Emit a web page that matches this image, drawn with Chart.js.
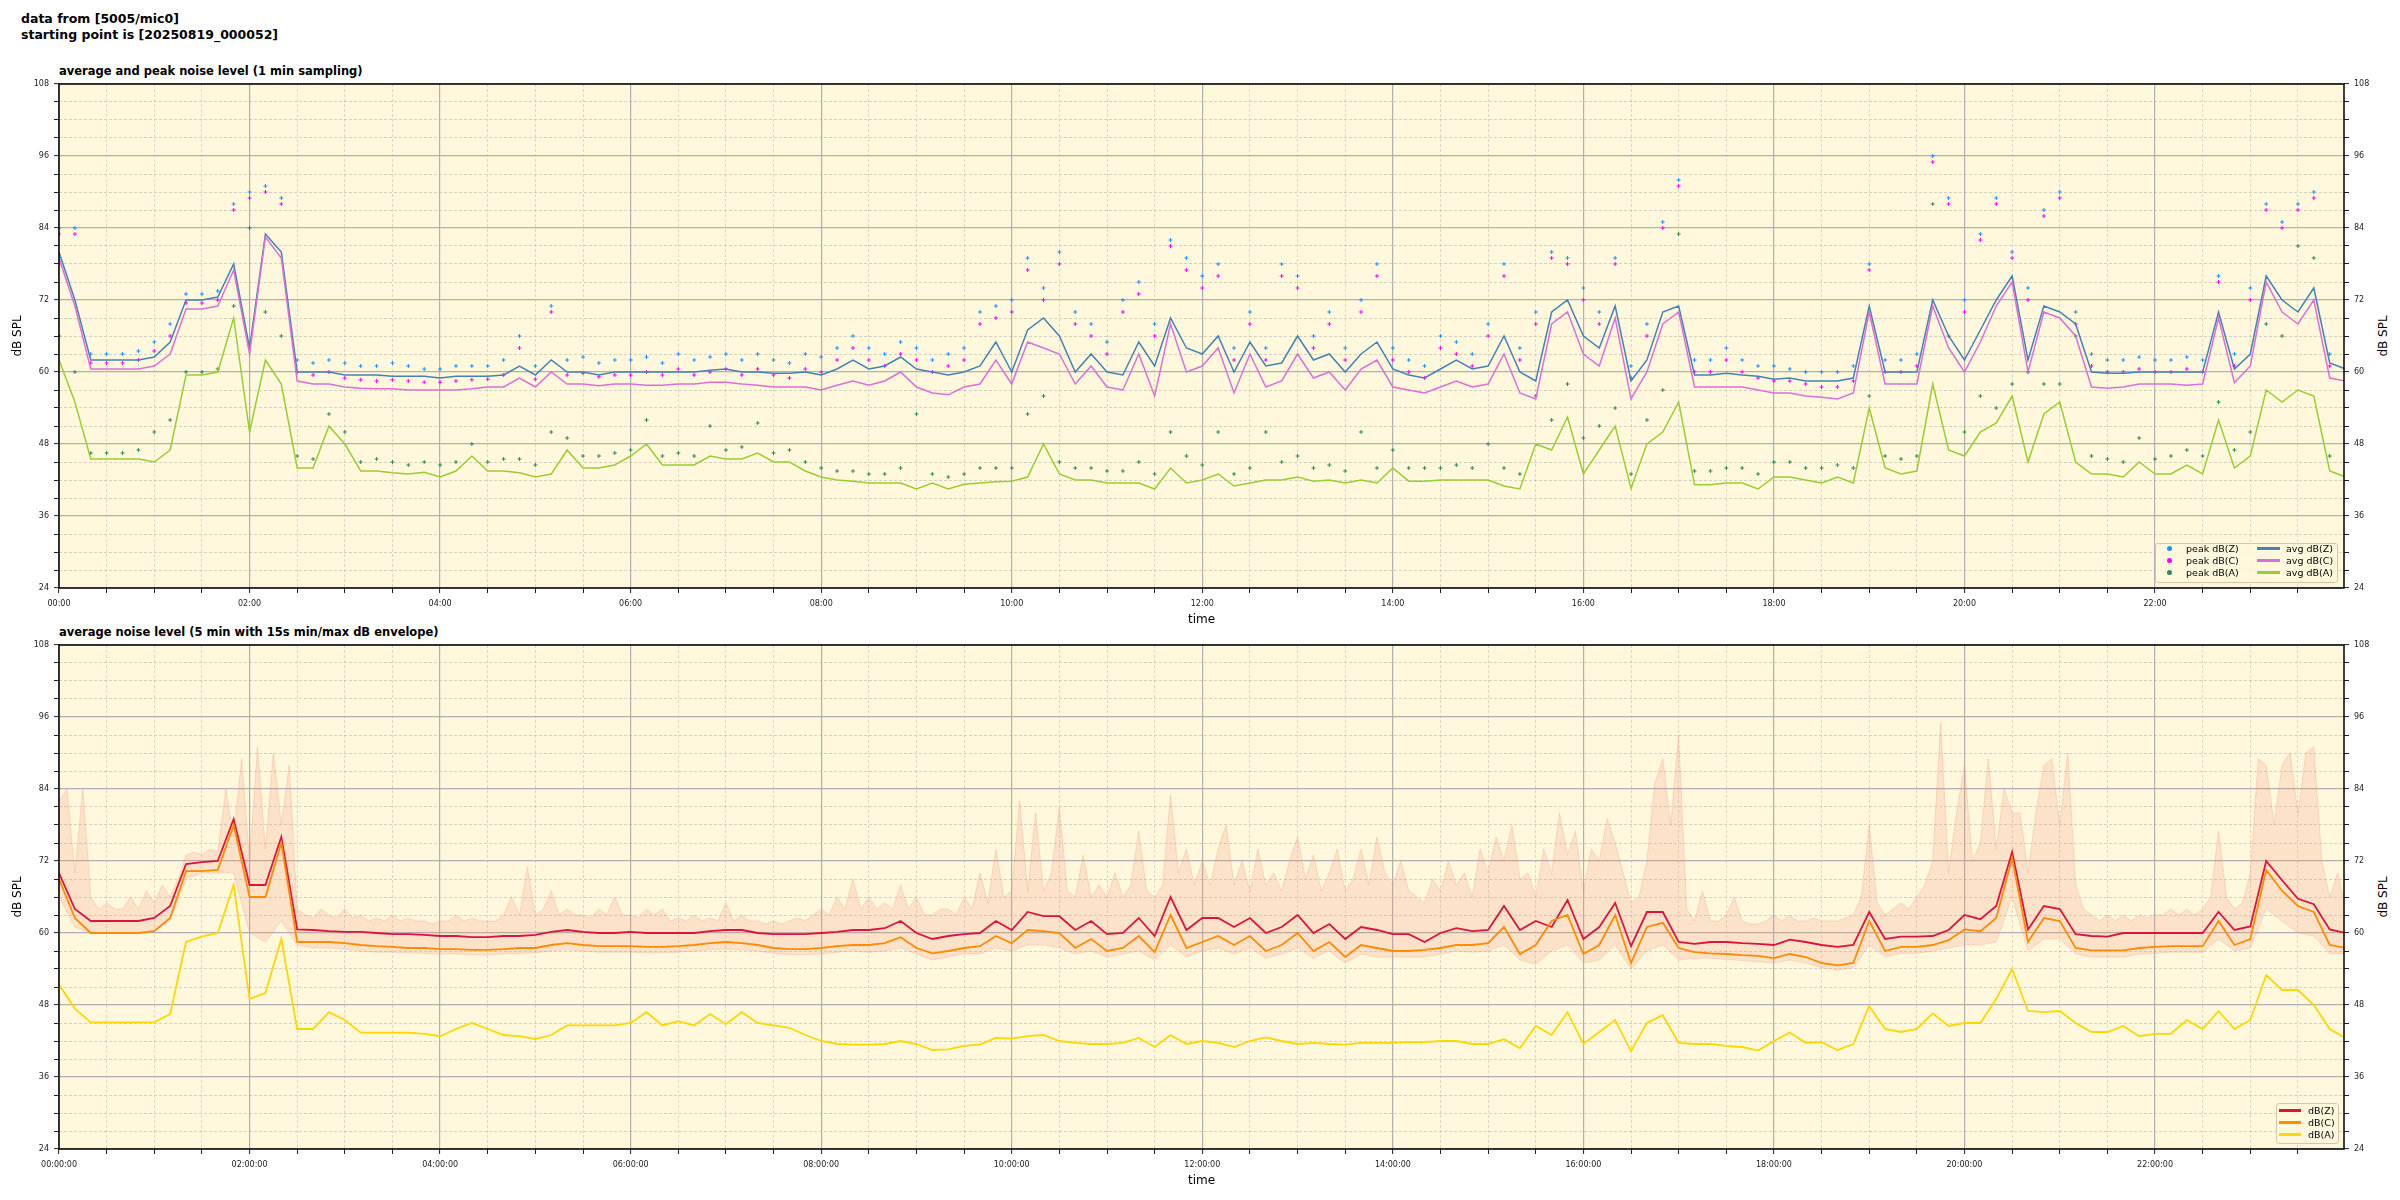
<!DOCTYPE html>
<html>
<head>
<meta charset="utf-8">
<script src="https://cdn.jsdelivr.net/npm/chart.js@4.4.1/dist/chart.umd.min.js"></script>
<style>
  body { margin: 0; background: #fff; font-family: "DejaVu Sans", sans-serif; color: #000; }
  #page { position: relative; width: 2400px; height: 1200px; overflow: hidden; }
  .abs { position: absolute; white-space: nowrap; }
  #suptitle { left: 21px; top: 11px; font-weight: bold; font-size: 12.5px; line-height: 15.5px; }
  .subtitle { left: 59px; font-weight: bold; font-size: 11.5px; line-height: 14px; }
  .ylab-right { width: 100px; text-align: center; font-size: 12px; line-height: 14px; transform: rotate(-90deg); }
  canvas { position: absolute; left: 0; }
  .legend { position: absolute; border: 1px solid #d9c6a2; border-radius: 3px; background: rgba(255, 248, 220, 0.85); box-sizing: border-box; }
  .item { position: absolute; font-size: 9.5px; line-height: 11px; white-space: nowrap; }
  .dot { position: absolute; width: 5px; height: 5px; border-radius: 50%; }
  .bar { position: absolute; height: 3px; }
</style>
</head>
<body>
<div id="page">
  <div id="suptitle" class="abs">data from [5005/mic0]<br>starting point is [20250819_000052]</div>
  <div class="abs subtitle" style="top:64px">average and peak noise level (1 min sampling)</div>
  <div class="abs subtitle" style="top:625px">average noise level (5 min with 15s min/max dB envelope)</div>
  <div class="abs ylab-right" style="left:2333px; top:329px">dB SPL</div>
  <div class="abs ylab-right" style="left:2333px; top:890px">dB SPL</div>

  <canvas id="topChart" width="2400" height="560" style="top:74px"></canvas>
  <canvas id="bottomChart" width="2400" height="560" style="top:635px"></canvas>

  <!-- legend of the upper plot -->
  <div class="legend" style="left:2155px; top:543px; width:183px; height:40px"></div>
  <div class="dot" style="left:2167px; top:546px; background:dodgerblue"></div>
  <div class="item" style="left:2186px; top:543px">peak dB(Z)</div>
  <div class="dot" style="left:2167px; top:558px; background:magenta"></div>
  <div class="item" style="left:2186px; top:555px">peak dB(C)</div>
  <div class="dot" style="left:2167px; top:570px; background:seagreen"></div>
  <div class="item" style="left:2186px; top:567px">peak dB(A)</div>
  <div class="bar" style="left:2257px; top:547px; width:23px; background:#4682b4"></div>
  <div class="item" style="left:2286px; top:543px">avg dB(Z)</div>
  <div class="bar" style="left:2257px; top:559px; width:23px; background:#da70d6"></div>
  <div class="item" style="left:2286px; top:555px">avg dB(C)</div>
  <div class="bar" style="left:2257px; top:571px; width:23px; background:#9acd32"></div>
  <div class="item" style="left:2286px; top:567px">avg dB(A)</div>

  <!-- legend of the lower plot -->
  <div class="legend" style="left:2276px; top:1103px; width:63px; height:41px"></div>
  <div class="bar" style="left:2279px; top:1109px; width:22px; background:#dc143c"></div>
  <div class="item" style="left:2308px; top:1105px">dB(Z)</div>
  <div class="bar" style="left:2279px; top:1121px; width:22px; background:#ff8c00"></div>
  <div class="item" style="left:2308px; top:1117px">dB(C)</div>
  <div class="bar" style="left:2279px; top:1133px; width:22px; background:#ffd700"></div>
  <div class="item" style="left:2308px; top:1129px">dB(A)</div>
</div>

<script>
// one value every 10 minutes from 00:00 (the envelope top: every 5 minutes)
const stepMin = 10;
const envStepMin = 5;

// upper plot: 1 min averages
const avgZ = [
  80, 72, 62, 62, 62, 62, 62.5, 65, 72, 72, 72.5, 78,
  64, 83, 80, 60, 60, 60, 59.5, 59.5, 59.5, 59.3, 59.3, 59.3,
  59, 59.3, 59.3, 59.3, 59.5, 61, 59.5, 62, 60, 60, 59.5, 60,
  60, 60, 60, 60, 60, 60.3, 60.5, 60, 60, 59.8, 59.8, 60,
  59.5, 60.5, 62, 60.5, 61, 62.5, 60.5, 60, 59.5, 60, 61, 65,
  60, 67, 69, 66, 60, 63, 60, 59.5, 65, 61, 69, 64,
  63, 66, 60, 65, 61, 61.5, 66, 62, 63, 60, 63, 65,
  60.5, 59.5, 59, 60.5, 62, 60.5, 61, 66, 60, 58.5, 70, 72,
  66, 64, 71, 58.5, 62, 70, 71, 59.5, 59.5, 59.8, 59.5, 59.3,
  58.8, 59, 58.5, 58.5, 58.5, 59, 71, 60, 60, 60, 72, 66,
  62, 67, 72, 76, 62, 71, 70, 68, 60, 59.8, 59.8, 60,
  60, 60, 60, 60, 70, 60.5, 63, 76, 72, 70, 74, 61.5,
  60.5
];
const avgC = [
  79, 71, 60.5, 60.5, 60.5, 60.5, 61, 63, 70.5, 70.5, 71, 77,
  63, 82.5, 79, 58.5, 58, 58, 57.5, 57.3, 57.2, 57.2, 57, 57,
  57, 57, 57.2, 57.5, 57.5, 59, 57.5, 60, 58, 58, 57.7, 58,
  58, 57.8, 57.8, 58, 58, 58.3, 58.3, 58, 57.8, 57.5, 57.5, 57.5,
  57, 57.8, 58.5, 57.8, 58.5, 60, 57.5, 56.5, 56.2, 57.5, 58, 62,
  58, 65, 64, 63, 58, 61, 57.5, 57, 63, 56, 68, 60,
  61, 64, 56.5, 63, 57.5, 58.5, 63, 59, 60, 57, 60.5, 62,
  57.5, 57, 56.5, 57.5, 58.5, 57.5, 58, 63, 56.5, 55.5, 68, 70,
  63, 61, 69, 55.5, 60, 68, 70, 57.5, 57.5, 57.5, 57.5, 57,
  56.5, 56.5, 56, 55.8, 55.5, 56.5, 70, 58, 58, 58, 71, 64,
  60, 65, 71, 75, 60, 70, 69, 66, 57.5, 57.3, 57.5, 58,
  58, 58, 57.8, 58, 69, 58.2, 61, 75, 70, 68, 72, 59,
  58.5
];
const avgA = [
  62, 55, 45.5, 45.5, 45.5, 45.5, 45, 47, 59.5, 59.5, 60, 69,
  50, 62, 58, 44, 44, 51, 48, 43.5, 43.5, 43.2, 43, 43.3,
  42.5, 43.5, 46, 43.5, 43.5, 43.2, 42.5, 43, 47, 44, 44, 44.5,
  46, 48, 44.5, 44.5, 44.5, 46, 45.5, 45.5, 46.5, 45, 45, 43.5,
  42.5, 42, 41.8, 41.5, 41.5, 41.5, 40.5, 41.5, 40.5, 41.3, 41.5, 41.7,
  41.8, 42.5, 48, 43, 42, 42, 41.5, 41.5, 41.5, 40.5, 44, 41.5,
  42, 43, 41, 41.5, 42, 42, 42.5, 41.8, 42, 41.5, 42, 41.5,
  44, 41.8, 41.8, 42, 42, 42, 42, 41, 40.5, 48, 47, 52.5,
  43, 47, 51, 40.6, 48, 50, 55, 41.2, 41.2, 41.5, 41.5, 40.5,
  42.5, 42.5, 42, 41.5, 42.5, 41.5, 54, 44, 43, 43.5, 58, 47,
  46, 50, 51.5, 56, 45, 53, 55, 45, 43, 43, 42.5, 45,
  43, 43, 44.5, 43, 52, 44, 46, 57, 55, 57, 56, 43.5,
  42.5
];

// upper plot: 1 min peaks
const peakZ = [
  84, 84, 63, 63, 63, 63.5, 65, 68, 73, 73, 73.5, 88,
  90, 91, 89, 62, 61.5, 62, 61.5, 61, 61, 61.5, 61, 60.5,
  60.5, 61, 61, 61, 62, 66, 61, 71, 62, 62.5, 61.5, 62,
  62, 62.5, 61.5, 63, 62, 62.5, 63, 62, 63, 62, 61.5, 63,
  62.5, 64, 66, 64, 63, 65, 64, 62, 63, 64, 70, 71,
  72, 79, 74, 80, 70, 68, 65, 72, 75, 68, 82, 79,
  76, 78, 64, 70, 64, 78, 76, 66, 70, 64, 72, 78,
  64, 62, 61, 66, 65, 63, 68, 78, 64, 70, 80, 79,
  74, 70, 79, 61, 68, 85, 92, 62, 62, 64, 62, 61,
  61, 60.5, 60, 60, 60, 61, 78, 62, 62, 63, 96, 89,
  72, 83, 89, 80, 74, 87, 90, 70, 63, 62, 62, 62.5,
  62, 62, 62.5, 62, 76, 63, 74, 88, 85, 88, 90, 63,
  62
];
const peakC = [
  83, 83, 61.5, 61.5, 61.5, 62, 63.5, 66, 71.5, 71.5, 72, 87,
  89, 90, 88, 60, 59.5, 60, 59, 58.7, 58.5, 58.7, 58.5, 58.3,
  58.3, 58.5, 58.7, 58.8, 59.5, 64, 58.8, 70, 59.5, 59.8, 59.2, 59.5,
  59.5, 60, 59.5, 60.5, 59.5, 60, 60.5, 59.5, 60.5, 59.5, 59, 60.5,
  60, 62, 64, 62, 61, 63, 62, 60, 61, 62, 68, 69,
  70, 77, 72, 78, 68, 66, 63, 70, 73, 66, 81, 77,
  74, 76, 62, 68, 62, 76, 74, 64, 68, 62, 70, 76,
  62, 60, 59, 64, 63, 61, 66, 76, 62, 68, 79, 78,
  72, 68, 78, 59, 66, 84, 91, 60, 60, 62, 60, 59,
  58.5, 58.5, 58, 57.5, 57.5, 58.5, 77, 60, 60, 61, 95, 88,
  70, 82, 88, 79, 72, 86, 89, 68, 61, 60, 60, 60.5,
  60, 60, 60.5, 60, 75, 61, 72, 87, 84, 87, 89, 61,
  60
];
const peakA = [
  66, 60, 46.5, 46.5, 46.5, 47, 50, 52, 60, 60, 60.5, 71,
  84, 70, 66, 46, 45.5, 53, 50, 45, 45.5, 45, 44.5, 45,
  44.5, 45, 48, 45, 45.5, 45.5, 44.5, 50, 49, 46, 46, 46.5,
  47, 52, 46, 46.5, 46, 51, 47, 47.5, 51.5, 46.5, 47, 45,
  44, 43.5, 43.5, 43, 43, 44, 53, 43, 42.5, 43, 44, 44,
  44, 53, 56, 45, 44, 44, 43.5, 43.5, 45, 43, 50, 46,
  44.5, 50, 43, 44, 50, 45, 46, 44, 44.5, 43.5, 50, 44,
  47, 44, 44, 44, 44.5, 44, 48, 44, 43, 56, 52, 58,
  49, 51, 54, 43, 52, 57, 83, 43.5, 43.5, 44, 44, 43,
  45, 45, 44, 44, 44.5, 44, 56, 46, 45.5, 46, 88, 66,
  50, 56, 54, 58, 60, 58, 58, 66, 46, 45.5, 45, 49,
  45.5, 46, 47, 46, 55, 47, 50, 68, 66, 81, 79, 46,
  45
];

// lower plot: 5 min averages
const lineZ = [
  70, 64, 62, 62, 62, 62, 62.5, 64.5, 71.5, 71.8, 72, 79,
  68, 68, 76, 60.6, 60.5, 60.3, 60.2, 60.2, 60, 59.8, 59.8, 59.7,
  59.5, 59.5, 59.3, 59.3, 59.5, 59.5, 59.7, 60.2, 60.5, 60.2, 60, 60,
  60.2, 60, 60, 60, 60, 60.3, 60.5, 60.5, 60, 59.8, 59.8, 59.8,
  60, 60.2, 60.5, 60.5, 60.8, 62, 60, 59, 59.5, 59.8, 60, 62,
  60.5, 63.5, 62.8, 62.8, 60.5, 62, 59.8, 60, 62.5, 59.5, 66, 60.5,
  62.5, 62.5, 61, 62.5, 60, 61, 63, 60, 61.5, 59, 61, 60.5,
  59.8, 59.8, 58.5, 60, 60.8, 60.3, 60.5, 64.5, 60.5, 62, 61, 65.5,
  59, 61, 65, 57.8, 63.5, 63.5, 58.5, 58.2, 58.5, 58.5, 58.3, 58.2,
  58, 58.9, 58.5, 58, 57.7, 58, 63.5, 59, 59.4, 59.4, 59.5, 60.5,
  63, 62.3, 64.5, 73.5, 60.6, 64.5, 64, 59.8, 59.5, 59.4, 60, 60,
  60, 60, 60, 60, 63.5, 60.5, 61.1, 72, 68.8, 65.7, 64.8, 60.6,
  60
];
const lineC = [
  69, 62.5, 60, 60, 60, 60, 60.3, 62.5, 70.3, 70.3, 70.5, 78,
  66, 66, 75, 58.5, 58.5, 58.5, 58.3, 58, 57.8, 57.7, 57.5, 57.5,
  57.3, 57.3, 57.2, 57.2, 57.3, 57.5, 57.5, 58, 58.3, 58, 57.8, 57.8,
  57.8, 57.7, 57.7, 57.8, 58, 58.3, 58.5, 58.3, 58, 57.5, 57.3, 57.3,
  57.5, 57.8, 58, 58, 58.3, 59.3, 57.5, 56.6, 57, 57.5, 57.8, 59.5,
  58.3, 60.5, 60.3, 60, 57.5, 59, 57, 57.5, 59.5, 56.8, 63, 57.5,
  58.5, 59.5, 58, 59.5, 57, 58, 60, 57, 58.5, 56, 58, 57.5,
  57, 57, 57.2, 57.5, 58, 58, 58.3, 61, 56.5, 58, 62, 63,
  56.5, 58, 63, 55, 61, 61.7, 57.5, 56.8, 56.6, 56.5, 56.3, 56.2,
  55.8, 56.5, 56, 55, 54.6, 55, 62, 57, 57.7, 57.7, 58, 58.8,
  60.6, 60.3, 62.5, 72.5, 58.5, 62.5, 62, 57.5, 57.1, 57.1, 57.1, 57.5,
  57.7, 57.8, 57.8, 57.8, 62, 58, 59, 70.5, 67, 64.5, 63.5, 58,
  57.5
];
const lineA = [
  51.4, 47.4, 45.1, 45.1, 45.1, 45.1, 45.1, 46.5, 58.5, 59.4, 60, 68,
  49, 50, 59, 44, 44, 46.8, 45.5, 43.4, 43.4, 43.4, 43.4, 43.2,
  42.8, 44, 45, 44, 43, 42.8, 42.3, 43, 44.6, 44.6, 44.6, 44.6,
  45, 46.8, 44.6, 45.3, 44.6, 46.5, 44.8, 46.8, 45, 44.6, 44.2, 43,
  42, 41.5, 41.4, 41.4, 41.5, 42, 41.5, 40.5, 40.6, 41.2, 41.4, 42.5,
  42.4, 42.8, 43, 42, 41.7, 41.5, 41.5, 41.7, 42.5, 41, 43, 41.5,
  42, 41.7, 41, 42, 42.6, 42, 41.5, 41.7, 41.5, 41.4, 41.7, 41.7,
  41.7, 41.8, 41.8, 42, 42, 41.5, 41.5, 42.3, 40.8, 44.5, 43, 46.8,
  41.5, 43.5, 45.5, 40.3, 45, 46.3, 41.7, 41.5, 41.5, 41.2, 41, 40.4,
  42, 43.4, 41.7, 41.8, 40.5, 41.5, 47.8, 44, 43.5, 44, 46.6, 44.5,
  45, 45, 49, 54, 47, 46.8, 47, 45, 43.5, 43.5, 44.5, 42.8,
  43.2, 43.2, 45.5, 44, 47, 44, 45.5, 53, 50.5, 50.5, 48, 44,
  42.5
];

// lower plot: 15 s max (every 5 min) and min (every 10 min) envelope
const envMax = [
  82, 84, 70, 84, 66, 64, 65, 64, 64, 66, 64, 67, 65, 68, 66, 69, 73, 73.5, 73, 74, 73.5, 84, 76, 89,
  72, 91, 74, 90, 78, 88, 64, 63, 62.5, 64, 63, 62.5, 64, 62.5, 63, 62, 62.5, 62, 63, 62, 62.5, 62, 62, 61.5,
  62, 62, 63, 62, 62.5, 62, 62, 62, 63, 66, 63, 71, 63, 64, 67, 63, 64, 63, 63, 62.5, 64, 63, 66, 63,
  63, 62.5, 64, 63, 64, 62, 62.5, 62, 63, 62, 62.5, 62, 65, 62, 63, 62, 62, 61.5, 62, 61.5, 62, 62.5, 62, 63,
  64, 63, 66, 64, 69, 64, 66, 64, 65, 64, 68, 64, 66, 63, 63, 64, 64, 63, 66, 64, 70, 65, 74, 66,
  67, 82, 67, 80, 67, 70, 81, 67, 66, 73, 66, 68, 66, 70, 66, 68, 77, 67, 66, 68, 83, 70, 74, 68,
  72, 68, 74, 78, 68, 72, 67, 74, 68, 70, 67, 72, 76, 69, 73, 67, 70, 74, 67, 69, 74, 68, 76, 70,
  68, 72, 67, 66, 65, 69, 67, 72, 68, 70, 66, 74, 70, 76, 72, 78, 69, 70, 66, 74, 70, 80, 73, 77,
  67, 74, 72, 79, 75, 70, 65, 66, 72, 85, 89, 78, 93, 64, 62, 67, 62, 62, 63, 66, 62, 61.5, 61.5, 62,
  63, 62, 63, 62, 62, 62.5, 62, 62, 62, 62.5, 63, 66, 78, 65, 63, 64, 65, 64, 66, 68, 72, 95, 70, 80,
  88, 72, 75, 89, 74, 84, 80, 80, 70, 80, 88, 89, 78, 90, 68, 64, 63, 62, 63, 62, 63, 62, 63, 62.5,
  63, 63, 64, 63, 64, 63, 64, 66, 77, 66, 64, 65, 70, 89, 88, 78, 88, 90, 80, 90, 91, 72, 66, 70,
  64
];
const envMin = [
  66, 61, 60, 60, 60, 60, 60.5, 62, 69, 70, 70, 70,
  60, 58.5, 62, 58, 57.5, 57.5, 57.3, 57, 56.8, 56.8, 56.7, 56.6,
  56.5, 56.5, 56.4, 56.4, 56.5, 56.6, 56.7, 57, 57.2, 57, 56.8, 56.8,
  56.8, 56.7, 56.7, 56.8, 57, 57.2, 57.3, 57.2, 57, 56.6, 56.4, 56.4,
  56.5, 56.8, 57, 56.8, 57, 57.5, 56.5, 55.5, 56, 56.5, 56.5, 57.5,
  57, 58, 58, 57.5, 56.5, 57, 56, 56.5, 57, 55.5, 58, 56,
  57, 57.5, 56.5, 57.5, 55.8, 56.5, 57.5, 55.8, 57, 55, 56.5, 56,
  56, 56, 56, 56.5, 57, 56.8, 57, 58, 55.5, 54.8, 57, 58,
  55, 55.5, 58, 54, 57, 58, 55.5, 55.8, 55.8, 55.6, 55.4, 55.2,
  55, 55.5, 55, 54.2, 53.8, 54.2, 58, 56, 56.6, 56.6, 57, 57.5,
  58, 58, 58.5, 66, 57, 59, 59, 56.5, 56, 56, 56, 56.5,
  56.6, 56.8, 56.8, 56.8, 59, 57, 57.5, 64, 62, 60, 59.5, 56.6,
  56.5
];

const fontFamily = "DejaVu Sans";
const plotBg = "#fff8dc";

function pts(values, step) {
  return values.map((v, i) => ({ x: i * (step || stepMin), y: v }));
}

function pad2(n) {
  return String(n).padStart(2, "0");
}

// cornsilk plot area and black frame, like the matplotlib axes
const plotFrame = {
  id: "plotFrame",
  beforeDraw(chart) {
    const a = chart.chartArea;
    const ctx = chart.ctx;
    ctx.save();
    ctx.fillStyle = plotBg;
    ctx.fillRect(a.left, a.top, a.right - a.left, a.bottom - a.top);
    ctx.restore();
  },
  afterDraw(chart) {
    const a = chart.chartArea;
    const ctx = chart.ctx;
    ctx.save();
    ctx.strokeStyle = "#000";
    ctx.lineWidth = 1.5;
    ctx.strokeRect(a.left, a.top, a.right - a.left, a.bottom - a.top);
    ctx.restore();
  }
};

function yMajor(ctx) {
  return ctx.tick && (ctx.tick.value - 24) % 12 === 0;
}

function yScale(position) {
  return {
    type: "linear",
    position: position,
    min: 24,
    max: 108,
    afterFit: (s) => { s.width = position === "left" ? 59 : 56; },
    ticks: {
      stepSize: 3,
      autoSkip: false,
      padding: 5,
      color: "#222",
      font: { family: fontFamily, size: 8 },
      callback: (v) => ((v - 24) % 12 === 0 ? v : "")
    },
    grid: {
      drawOnChartArea: position === "left",
      color: (ctx) => (yMajor(ctx) ? "#b0b0b0" : "rgba(150, 150, 150, 0.5)"),
      lineWidth: (ctx) => (yMajor(ctx) ? 1.2 : 0.8),
      tickLength: 5,
      tickColor: "#222",
      tickWidth: 1
    },
    border: {
      display: false,
      dash: (ctx) => (ctx.tick && !yMajor(ctx) ? [3, 2] : [])
    },
    title: {
      display: position === "left",
      text: "dB SPL",
      color: "#000",
      font: { family: fontFamily, size: 12 },
      padding: { top: 11, bottom: 0 }
    }
  };
}

function xMajor(ctx) {
  return ctx.tick && ctx.tick.value % 120 === 0;
}

function xScale(withSeconds) {
  return {
    type: "linear",
    min: 0,
    max: 1439,
    afterFit: (s) => { s.height = 46; },
    ticks: {
      stepSize: 30,
      autoSkip: false,
      includeBounds: false,
      maxRotation: 0,
      padding: 6,
      color: "#222",
      font: { family: fontFamily, size: 8 },
      callback: (v) => {
        if (v % 120 !== 0) return "";
        const h = pad2(v / 60) + ":00";
        return withSeconds ? h + ":00" : h;
      }
    },
    grid: {
      color: (ctx) => (xMajor(ctx) ? "#b0b0b0" : "rgba(160, 160, 160, 0.45)"),
      lineWidth: (ctx) => (xMajor(ctx) ? 1.2 : 0.8),
      tickLength: 5,
      tickColor: "#222",
      tickWidth: 1
    },
    border: {
      display: false,
      dash: (ctx) => (ctx.tick && !xMajor(ctx) ? [3, 2] : [])
    },
    title: {
      display: true,
      text: "time",
      color: "#000",
      font: { family: fontFamily, size: 12 },
      padding: { top: 0, bottom: 7 }
    }
  };
}

function baseOptions(withSeconds) {
  return {
    responsive: false,
    animation: false,
    devicePixelRatio: 1,
    events: [],
    layout: { padding: { top: 10, left: 0, right: 0, bottom: 0 } },
    elements: { line: { tension: 0, fill: false }, point: { radius: 0 } },
    plugins: { legend: { display: false }, tooltip: { enabled: false } },
    scales: {
      x: xScale(withSeconds),
      y: yScale("left"),
      y2: yScale("right")
    }
  };
}

function peakSet(label, values, color, order) {
  return {
    label: label,
    data: pts(values),
    showLine: false,
    pointStyle: "cross",
    pointRadius: 2,
    pointBorderWidth: 1,
    borderColor: color,
    backgroundColor: color,
    order: order
  };
}

function lineSet(label, values, color, width, order) {
  return {
    label: label,
    data: pts(values),
    borderColor: color,
    borderWidth: width,
    pointRadius: 0,
    order: order
  };
}

document.addEventListener("DOMContentLoaded", function () {
  new Chart(document.getElementById("topChart").getContext("2d"), {
    type: "line",
    data: {
      datasets: [
        lineSet("avg dB(A)", avgA, "#9acd32", 1.5, 1),
        lineSet("avg dB(C)", avgC, "#da70d6", 1.5, 2),
        lineSet("avg dB(Z)", avgZ, "#4682b4", 1.5, 3),
        peakSet("peak dB(A)", peakA, "seagreen", 4),
        peakSet("peak dB(C)", peakC, "magenta", 5),
        peakSet("peak dB(Z)", peakZ, "dodgerblue", 6)
      ]
    },
    options: baseOptions(false),
    plugins: [plotFrame]
  });

  new Chart(document.getElementById("bottomChart").getContext("2d"), {
    type: "line",
    data: {
      datasets: [
        {
          label: "max",
          data: pts(envMax, envStepMin),
          borderColor: "rgba(240, 140, 120, 0.28)",
          borderWidth: 1,
          backgroundColor: "rgba(240, 140, 120, 0.2)",
          fill: "+1",
          pointRadius: 0,
          order: 5
        },
        {
          label: "min",
          data: pts(envMin),
          borderColor: "rgba(240, 140, 120, 0.25)",
          borderWidth: 1,
          pointRadius: 0,
          order: 5
        },
        lineSet("dB(Z)", lineZ, "#dc143c", 1.8, 3),
        lineSet("dB(C)", lineC, "#ff8c00", 1.8, 2),
        lineSet("dB(A)", lineA, "#ffd700", 1.8, 1)
      ]
    },
    options: baseOptions(true),
    plugins: [plotFrame]
  });
});
</script>
</body>
</html>
